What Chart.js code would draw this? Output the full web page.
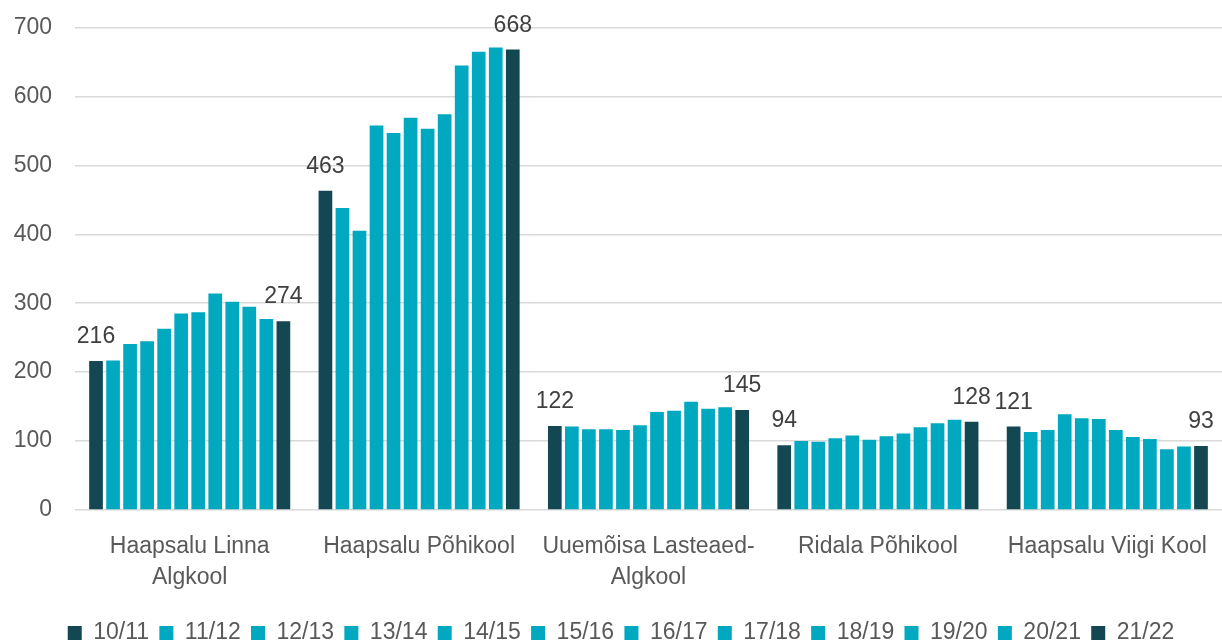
<!DOCTYPE html>
<html>
<head>
<meta charset="utf-8">
<script src="https://cdn.jsdelivr.net/npm/chart.js@4.4.1/dist/chart.umd.min.js"></script>
<style>
  html, body { margin: 0; padding: 0; background: #fff; }
  #wrap { width: 1222px; height: 643px; position: relative; }
</style>
</head>
<body>
<div id="wrap"><canvas id="c" width="1222" height="643"></canvas></div>
<script>
const categories = [
  ["Haapsalu Linna", "Algkool"],
  "Haapsalu Põhikool",
  ["Uuemõisa Lasteaed-", "Algkool"],
  "Ridala Põhikool",
  "Haapsalu Viigi Kool"
];
const seriesNames = ["10/11","11/12","12/13","13/14","14/15","15/16","16/17","17/18","18/19","19/20","20/21","21/22"];
// values per school year: [Linna Algkool, Põhikool, Uuemõisa, Ridala, Viigi]
const s1011 = [216, 463, 122, 94, 121];
const s1112 = [217, 438, 121, 100, 113];
const s1213 = [241, 405, 117, 99, 116];
const s1314 = [245, 558, 117, 104, 139];
const s1415 = [263, 547, 116, 108, 133];
const s1516 = [285, 569, 123, 102, 132];
const s1617 = [287, 553, 142, 107, 116];
const s1718 = [314, 574, 144, 111, 106];
const s1819 = [302, 645, 157, 120, 103];
const s1920 = [295, 665, 147, 126, 88];
const s2021 = [277, 671, 149, 131, 92];
const s2122 = [274, 668, 145, 128, 93];
const yTicks = [0, 100, 200, 300, 400, 500, 600, 700];

const allSeries = [s1011, s1112, s1213, s1314, s1415, s1516, s1617, s1718, s1819, s1920, s2021, s2122];
const DARK = '#134852';
const CYAN = '#00A9BF';
const FONT = "'Liberation Sans', Arial, sans-serif";
const LEG_PAD = 10.3;

const datasets = allSeries.map((d, i) => ({
  label: seriesNames[i],
  data: d,
  backgroundColor: (i === 0 || i === allSeries.length - 1) ? DARK : CYAN,
  borderWidth: 0,
  barPercentage: 0.805,
  categoryPercentage: 0.891
}));

const labelPlugin = {
  id: 'endLabels',
  afterLayout(chart) {
    // nudge the legend down/right to where the reference places it
    const lg = chart.legend;
    if (lg) {
      const dy = 633 - (lg.top + LEG_PAD + 11.5);
      lg.top += dy; lg.bottom += dy;
      lg.left += 10; lg.right += 10;
    }
  },
  afterDatasetsDraw(chart) {
    const ctx = chart.ctx;
    ctx.save();
    ctx.font = "23px " + FONT;
    ctx.fillStyle = '#404040';
    ctx.textAlign = 'center';
    ctx.textBaseline = 'alphabetic';
    [0, chart.data.datasets.length - 1].forEach(di => {
      const meta = chart.getDatasetMeta(di);
      meta.data.forEach((el, j) => {
        const v = chart.data.datasets[di].data[j];
        ctx.fillText(String(v), el.x, el.y - 18);
      });
    });
    ctx.restore();
  }
};

new Chart(document.getElementById('c'), {
  type: 'bar',
  data: { labels: categories, datasets },
  options: {
    responsive: false,
    animation: false,
    devicePixelRatio: 1,
    layout: { padding: { top: 27.5, right: 0, left: 0, bottom: 0 } },
    plugins: {
      tooltip: { enabled: false },
      legend: {
        position: 'bottom',
        labels: {
          boxWidth: 14,
          boxHeight: 14,
          padding: LEG_PAD,
          color: '#595959',
          font: { family: FONT, size: 23 }
        }
      }
    },
    scales: {
      x: {
        grid: { display: true, drawOnChartArea: false, drawTicks: true, tickLength: 21.5, color: 'rgba(0,0,0,0)' },
        border: { display: false },
        ticks: {
          color: '#595959',
          font: { family: FONT, size: 23, lineHeight: 1.35 },
          padding: 0,
          autoSkip: false,
          maxRotation: 0,
          minRotation: 0
        },
        afterFit(scale) { scale.height = 89.7; }
      },
      y: {
        min: 0,
        max: 700,
        grid: { color: '#D9D9D9', lineWidth: 1.5, drawTicks: true, tickLength: 23, tickColor: 'rgba(0,0,0,0)' },
        border: { display: false },
        afterBuildTicks(scale) { scale.ticks = yTicks.map(v => ({ value: v })); },
        ticks: {
          color: '#595959',
          font: { family: FONT, size: 23 },
          padding: 0
        },
        afterFit(scale) { scale.width = 75; }
      }
    }
  },
  plugins: [labelPlugin]
});
</script>
</body>
</html>
